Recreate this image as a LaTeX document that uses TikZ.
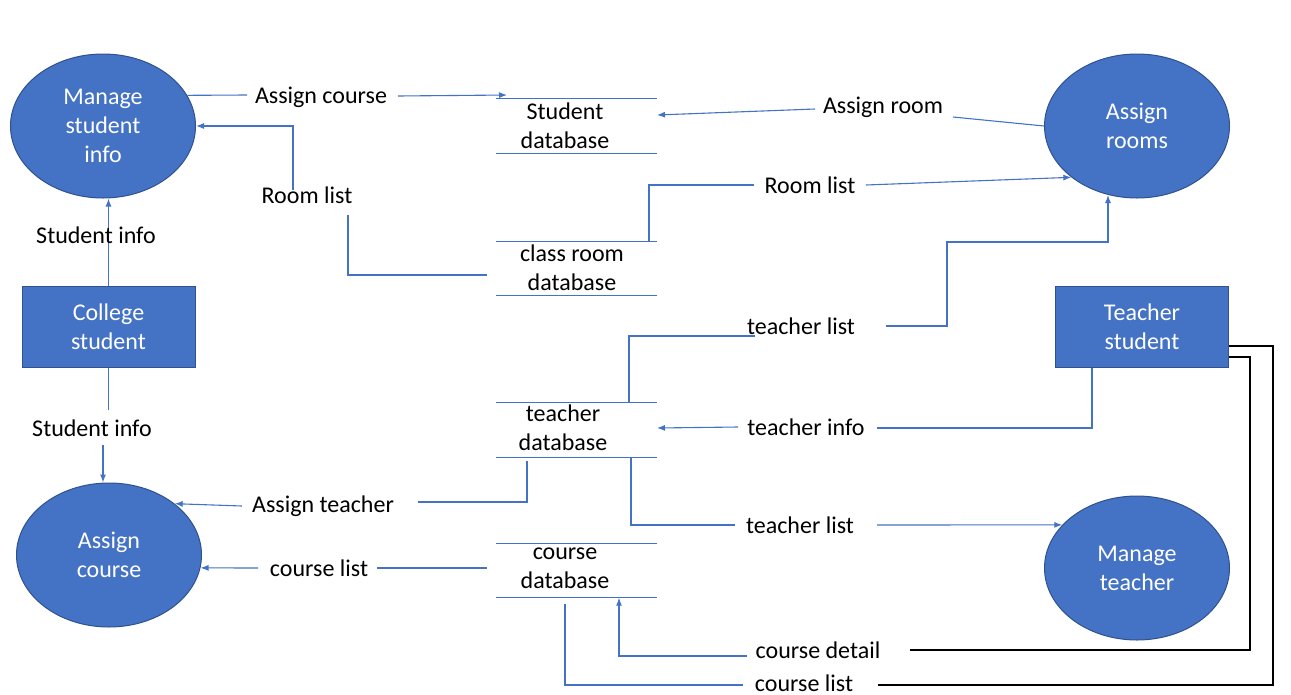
\documentclass[tikz,border=0pt]{standalone}
\usepackage{fontspec}
\setmainfont{Carlito}
\usetikzlibrary{arrows.meta,shapes.geometric}
\definecolor{fillblue}{HTML}{4472C4}
\definecolor{edgeblue}{HTML}{2F528F}
\begin{document}
\begin{tikzpicture}[x=1pt,y=-1pt,
  every node/.style={font=\fontsize{24}{29}\selectfont},
  proc/.style={ellipse, fill=fillblue, draw=edgeblue, line width=1pt, minimum width=185pt, minimum height=144pt, inner sep=0pt, align=center, text=white},
  ent/.style={rectangle, fill=fillblue, draw=edgeblue, line width=1pt, minimum width=173pt, minimum height=81pt, inner sep=0pt, align=center, text=white},
  store/.style={minimum width=161pt, minimum height=54pt, inner sep=0pt},
  stxt/.style={align=center, inner sep=0pt},
  lbl/.style={inner sep=0pt, text=black},
  flow/.style={draw=fillblue, line width=1.1pt},
  arr/.style={flow, -{Latex[length=8pt,width=6pt]}},
  kflow/.style={draw=black, line width=1.1pt}
]
\path[fill=white,use as bounding box] (0,0) rectangle (1291,694);

% processes
\node[proc] (msi) at (103,126) {Manage\\student\\info};
\node[proc] (ar) at (1137,126) {Assign\\rooms};
\node[proc] (ac) at (109,555) {Assign\\course};
\node[proc] (mt) at (1137,568) {Manage\\teacher};
% external entities
\node[ent] (cs) at (108.5,326.5) {College\\student};
\node[ent] (ts) at (1142,326.5) {Teacher\\student};
% data stores
\node[store] (sd) at (576.5,126) {};
\node[store] (crd) at (576.5,268.5) {};
\node[store] (td) at (576.5,430) {};
\node[store] (cd) at (576.5,570.5) {};
\foreach \n in {sd,crd,td,cd}
  \draw[flow] (\n.north west) -- (\n.north east) (\n.south west) -- (\n.south east);
\node[stxt] (sdt) at (565,126) {Student\\database};
\node[stxt] (crdt) at (572,268) {class room\\database};
\node[stxt] (tdt) at (563,428) {teacher\\database};
\node[stxt] (cdt) at (565,568) {course\\database};

% connectors
\draw[flow] (msi.20) -- (247,95);
\draw[arr] (398,96) -- (507,95);

\draw[flow] (ar.west) -- (953,117);
\draw[arr] (815,109) -- (657,115);

\draw[flow] (487,275) -- (348,275) -- (348,215);
\draw[arr] (293,190) -- (293,126) -- (msi.east);

\draw[flow] (crd.north -| 649,0) -- (649,185) -- (754,185);
\draw[arr] (866,185) -- (ar.218);

\draw[flow] (td.north -| 629,0) -- (629,336) -- (755,336);
\draw[arr] (886,326) -- (947,326) -- (947,242) -- (1108,242) -- (1108,195);

\draw[flow] (ts.south -| 1092,0) -- (1092,428) -- (877,428);
\draw[arr] (738,427) -- (657,428);

\draw[flow] (527,461) -- (527,502) -- (418,502);
\draw[arr] (242,506) -- (ac.38);

\draw[flow] (td.south -| 631,0) -- (631,525) -- (735,525);
\draw[arr] (877,525) -- (mt.150);

\draw[flow] (487,568) -- (377,568);
\draw[arr] (258,568) -- (ac.-8);

\draw[kflow] (ts.east |- 0,357) -- (1250,357) -- (1250,650) -- (910,650);
\draw[arr] (747,656) -- (619,656) -- (cd.south -| 619,0);

\draw[kflow] (ts.east |- 0,346) -- (1273,346) -- (1273,685) -- (878,685);
\draw[flow] (743,685) -- (565,685) -- (565,604);

\draw[arr] (cs.north) -- (cs.north |- msi.south);
\draw[flow] (cs.south) -- (108.5,410);
\draw[arr] (103,445) -- (ac.north -| 103,0);

% labels
\node[lbl] (l1) at (321,97) {Assign course};
\node[lbl] (l2) at (883,107) {Assign room};
\node[lbl] (l3) at (307,195) {Room list};
\node[lbl] (l4) at (810,185) {Room list};
\node[lbl] (l5) at (96,235) {Student info};
\node[lbl] (l6) at (92,428) {Student info};
\node[lbl] (l7) at (801,326) {teacher list};
\node[lbl] (l8) at (806,427) {teacher info};
\node[lbl] (l9) at (323,506) {Assign teacher};
\node[lbl] (l10) at (800,525) {teacher list};
\node[lbl] (l11) at (319,568) {course list};
\node[lbl] (l12) at (818,650) {course detail};
\node[lbl] (l13) at (804,683) {course list};
\end{tikzpicture}
\end{document}
